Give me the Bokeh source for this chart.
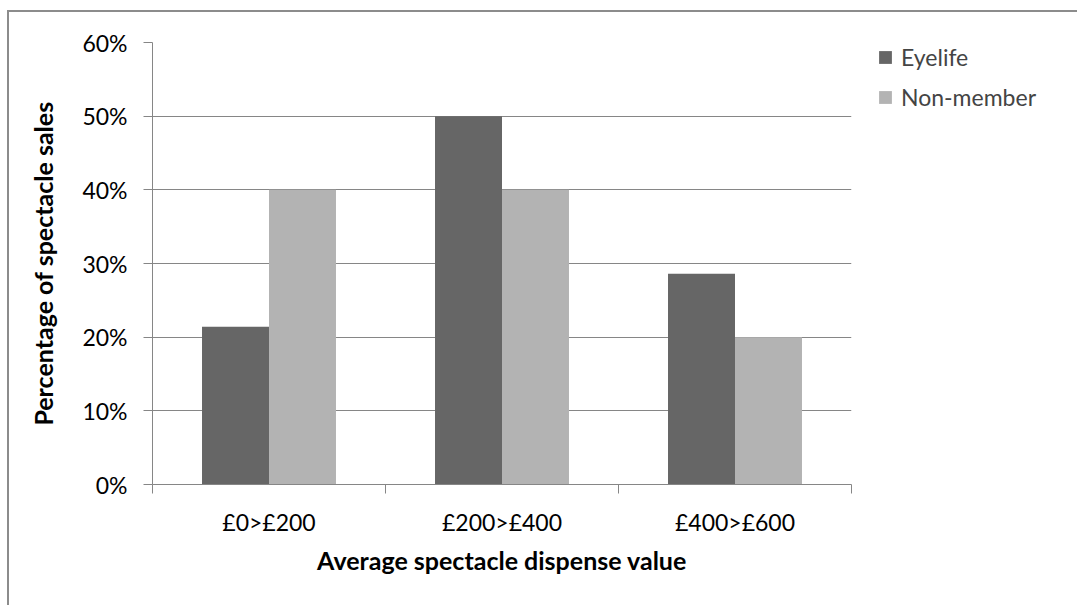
from bokeh.plotting import figure
from bokeh.models import FixedTicker, NumeralTickFormatter, Legend, LegendItem, Range1d, ColumnDataSource
from bokeh.embed import file_html
from bokeh.resources import INLINE

categories = ["£0>£200", "£200>£400", "£400>£600"]
series_names = ["Eyelife", "Non-member"]
eyelife = [0.214, 0.50, 0.286]
non_member = [0.40, 0.40, 0.20]
y_ticks = [0, 0.1, 0.2, 0.3, 0.4, 0.5, 0.6]
colors = ["#666666", "#b3b3b3"]

FONT = "Lato"
GRID = "#868686"

p = figure(width=1068, height=593, output_backend="svg", toolbar_location=None,
           x_range=Range1d(0, 3), y_range=Range1d(0, 0.6),
           min_border_left=143, min_border_top=30, min_border_right=226, min_border_bottom=121,
           frame_width=699, frame_height=442)
p.margin = (10, 0, 0, 7)
p.styles = {"border-left": "2px solid #8c8c8c", "border-top": "2px solid #8c8c8c"}
p.outline_line_color = None
p.background_fill_color = "white"
p.border_fill_color = "white"

centers = [i + 0.5 for i in range(len(categories))]
bw = 0.2875
src = ColumnDataSource(dict(x=centers, e=eyelife, n=non_member,
                            xe=[c - bw / 2 for c in centers], xn=[c + bw / 2 for c in centers]))
r1 = p.vbar(x="xe", top="e", width=bw, source=src, fill_color=colors[0], line_color=None)
r2 = p.vbar(x="xn", top="n", width=bw, source=src, fill_color=colors[1], line_color=None)

p.xgrid.grid_line_color = None
p.ygrid.grid_line_color = GRID
p.ygrid.grid_line_width = 1
p.ygrid.ticker = FixedTicker(ticks=y_ticks)

p.yaxis.ticker = FixedTicker(ticks=y_ticks)
p.yaxis.formatter = NumeralTickFormatter(format="0%")
p.xaxis.ticker = FixedTicker(ticks=centers, minor_ticks=[0, 1, 2, 3])
p.xaxis.major_label_overrides = {c: lab for c, lab in zip(centers, categories)}
p.xaxis.major_tick_out = 0
p.xaxis.major_tick_in = 0
p.xaxis.minor_tick_out = 9
p.xaxis.minor_tick_in = 0
p.yaxis.major_tick_out = 9
p.yaxis.major_tick_in = 0
p.yaxis.minor_tick_line_color = None

for ax in (p.xaxis[0], p.yaxis[0]):
    ax.axis_line_color = GRID
    ax.major_tick_line_color = GRID
    ax.major_label_text_font = FONT
    ax.major_label_text_font_size = "23px"
    ax.major_label_text_color = "black"
    ax.axis_label_text_font = FONT
    ax.axis_label_text_font_size = "25px"
    ax.axis_label_text_font_style = "bold"
    ax.axis_label_text_color = "black"
p.xaxis[0].minor_tick_line_color = GRID

p.xaxis.axis_label = "Average spectacle dispense value"
p.yaxis.axis_label = "Percentage of spectacle sales"
p.xaxis.major_label_standoff = 14
p.xaxis.axis_label_standoff = 6
p.yaxis.major_label_standoff = 16
p.yaxis.axis_label_standoff = 21

legend = Legend(items=[LegendItem(label=series_names[0], renderers=[r1]),
                       LegendItem(label=series_names[1], renderers=[r2])],
                location=(26, 373), padding=0, margin=0, spacing=12,
                glyph_width=16, glyph_height=16, label_standoff=8, label_height=20,
                label_text_font=FONT, label_text_font_size="23px",
                border_line_color=None, background_fill_alpha=0)
p.add_layout(legend, "right")

open("out.html", "w").write(file_html(p, INLINE))
